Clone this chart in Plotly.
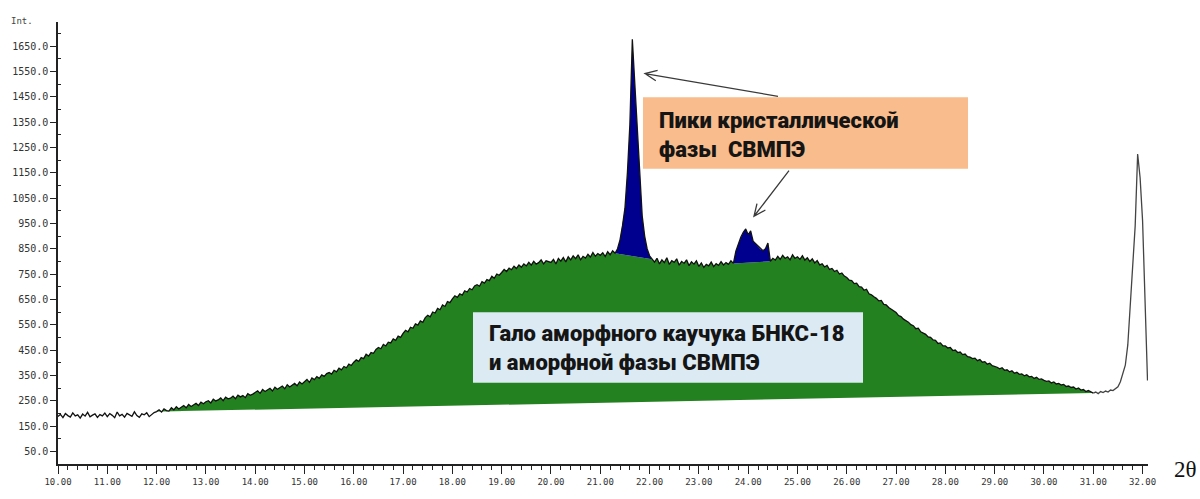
import math
import numpy as np
import plotly.graph_objects as go

# ---------------- data ----------------
theta_start = 10.0
theta_step = 0.05

i10 = [188, 196, 183, 199, 191, 185, 202, 190, 194, 181, 197, 189, 204, 186, 193, 198, 184, 195, 190, 201]
i11 = [187, 199, 192, 183, 205, 190, 196, 185, 200, 193, 188, 206, 191, 184, 198, 194, 202, 187, 196, 203]
i12 = [207, 214, 205, 218, 211, 209, 222, 214, 226, 217, 224, 231, 222, 235, 227, 233, 240, 231, 244, 238]
i13 = [246, 250, 241, 256, 249, 253, 261, 250, 264, 257, 260, 268, 258, 272, 265, 270, 262, 278, 271, 276]
i14 = [282, 289, 279, 294, 286, 292, 299, 288, 303, 295, 300, 308, 297, 313, 304, 311, 318, 309, 324, 316]
i15 = [326, 334, 322, 340, 333, 345, 338, 352, 346, 357, 361, 355, 370, 364, 378, 372, 385, 380, 394, 389]
i16 = [402, 411, 405, 420, 416, 433, 426, 440, 437, 452, 460, 455, 472, 466, 481, 478, 494, 488, 505, 500]
i17 = [516, 528, 522, 540, 536, 553, 548, 565, 559, 578, 587, 581, 600, 596, 614, 609, 628, 622, 641, 637]
i18 = [652, 664, 658, 672, 667, 684, 679, 693, 688, 703, 708, 702, 720, 714, 728, 724, 741, 733, 750, 745]
i19 = [756, 768, 760, 773, 767, 781, 772, 786, 777, 790, 782, 796, 785, 800, 789, 795, 806, 790, 802, 798]
i20 = [796, 808, 790, 812, 801, 815, 798, 818, 806, 822, 811, 826, 806, 820, 813, 828, 817, 835, 820, 831]
i21 = [824, 834, 819, 838, 826, 842, 832, 850, 885, 940, 1010, 1150, 1340, 1677, 1500, 1330, 1120, 980, 900, 850]
i22 = [822, 808, 797, 812, 790, 806, 795, 814, 788, 803, 796, 810, 785, 800, 792, 806, 783, 798, 789, 802]
i23 = [780, 794, 776, 788, 782, 797, 779, 791, 784, 799, 786, 795, 788, 802, 792, 840, 870, 895, 915, 928]
i24 = [905, 920, 880, 870, 858, 848, 842, 850, 872, 800, 812, 805, 820, 808, 824, 812, 818, 806, 826, 812]
i25 = [818, 808, 822, 805, 814, 800, 810, 794, 803, 786, 790, 778, 784, 768, 772, 760, 765, 750, 754, 742]
i26 = [736, 726, 724, 712, 714, 700, 698, 686, 690, 672, 668, 660, 654, 644, 646, 630, 628, 618, 612, 604]
i27 = [598, 586, 582, 572, 566, 560, 550, 546, 534, 536, 522, 518, 512, 502, 500, 490, 488, 476, 478, 466]
i28 = [466, 458, 460, 448, 450, 440, 442, 432, 434, 424, 422, 416, 418, 408, 412, 402, 404, 394, 398, 388]
i29 = [386, 382, 376, 380, 370, 372, 364, 368, 358, 362, 354, 356, 348, 352, 344, 346, 338, 342, 334, 336]
i30 = [330, 326, 328, 320, 324, 316, 318, 312, 314, 306, 308, 302, 304, 296, 300, 292, 294, 286, 290, 284]
i31 = [280, 284, 278, 286, 282, 288, 284, 292, 290, 298, 305, 325, 358, 390, 470, 620, 780, 940, 1224, 1130]
i32 = [960, 640, 330]

halo_range = (12.00, 31.00)        # amorphous halo (green)
peak1_range = (21.30, 22.05)       # crystalline peak 1 (blue)
peak2_range = (23.70, 24.45)       # crystalline peak 2 (blue)

x_ticks = list(range(10, 33))
x_ticktext = [f"{v:.2f}" for v in x_ticks]
y_ticks = [50, 150, 250, 350, 450, 550, 650, 750, 850, 950, 1050, 1150, 1250, 1350, 1450, 1550, 1650]
y_ticktext = [f"{v:.1f}" for v in y_ticks]

label_crystal = "Пики кристаллической<br>фазы  СВМПЭ"
label_halo = "Гало аморфного каучука БНКС-18<br>и аморфной фазы СВМПЭ"

# ---------------- build ----------------
intensity = np.array(i10 + i11 + i12 + i13 + i14 + i15 + i16 + i17 + i18 + i19 + i20 +
                     i21 + i22 + i23 + i24 + i25 + i26 + i27 + i28 + i29 + i30 + i31 + i32, dtype=float)
theta = np.round(theta_start + theta_step * np.arange(len(intensity)), 2)
eps = 1e-6


def inside(lo, hi, strict=False):
    if strict:
        return (theta > lo + eps) & (theta < hi - eps)
    return (theta >= lo - eps) & (theta <= hi + eps)


green_mask = inside(*halo_range) & ~inside(*peak1_range, strict=True) & ~inside(*peak2_range, strict=True)
p1_mask = inside(*peak1_range)
p2_mask = inside(*peak2_range)
main_mask = theta <= halo_range[1] + eps
tail_mask = theta >= halo_range[1] - eps

GREEN = "#23821f"
BLUE = "#00008f"

fig = go.Figure()
fig.add_trace(go.Scatter(x=theta[green_mask], y=intensity[green_mask], fill="toself",
                         fillcolor=GREEN, line=dict(width=0), mode="lines", hoverinfo="skip"))
fig.add_trace(go.Scatter(x=theta[p1_mask], y=intensity[p1_mask], fill="toself",
                         fillcolor=BLUE, line=dict(width=0), mode="lines", hoverinfo="skip"))
fig.add_trace(go.Scatter(x=theta[p2_mask], y=intensity[p2_mask], fill="toself",
                         fillcolor=BLUE, line=dict(width=0), mode="lines", hoverinfo="skip"))
fig.add_trace(go.Scatter(x=theta[main_mask], y=intensity[main_mask], mode="lines",
                         line=dict(color="#111111", width=1.3)))
fig.add_trace(go.Scatter(x=theta[tail_mask], y=intensity[tail_mask], mode="lines",
                         line=dict(color="#444444", width=1.3)))

# pixel -> paper helpers (plot area: x 58..1148, y 22..468)
L, R, T, B = 58, 52, 22, 31
W, H = 1200, 499
PW, PH = W - L - R, H - T - B


def px(x):
    return (x - L) / PW


def py(y):
    return (H - B - y) / PH


shapes = []
# annotation boxes
shapes.append(dict(type="rect", xref="paper", yref="paper", x0=px(643), x1=px(968), y0=py(170), y1=py(98),
                   fillcolor="#f9bc8c", line=dict(width=0), layer="above"))
shapes.append(dict(type="rect", xref="paper", yref="paper", x0=px(473), x1=px(863), y0=py(386), y1=py(315),
                   fillcolor="#dceaf4", line=dict(width=0), layer="above"))


def arrow(tail, head, wing=13, ang=24):
    dx, dy = tail[0] - head[0], tail[1] - head[1]
    n = math.hypot(dx, dy)
    ux, uy = dx / n, dy / n
    pts = []
    for s in (1, -1):
        a = math.radians(ang * s)
        wx = ux * math.cos(a) - uy * math.sin(a)
        wy = ux * math.sin(a) + uy * math.cos(a)
        pts.append((head[0] + wing * wx, head[1] + wing * wy))
    path = (f"M {px(tail[0])},{py(tail[1])} L {px(head[0])},{py(head[1])} "
            f"M {px(pts[0][0])},{py(pts[0][1])} L {px(head[0])},{py(head[1])} "
            f"L {px(pts[1][0])},{py(pts[1][1])}")
    return dict(type="path", xref="paper", yref="paper", path=path,
                line=dict(color="#3a3a3a", width=1.3), layer="above")


shapes.append(arrow((778, 97), (645, 74)))
shapes.append(arrow((789, 172), (754, 218)))

annotations = [
    dict(xref="paper", yref="paper", x=px(657), y=py(136.5), xanchor="left", yanchor="middle",
         text=label_crystal, showarrow=False, align="left",
         font=dict(family="Roboto", size=22, color="#151515", weight=900)),
    dict(xref="paper", yref="paper", x=px(487), y=py(351), xanchor="left", yanchor="middle",
         text=label_halo, showarrow=False, align="left",
         font=dict(family="Roboto", size=22, color="#151515", weight=900)),
    dict(xref="paper", yref="paper", x=px(1185), y=py(474), xanchor="center", yanchor="middle",
         text="2θ", showarrow=False,
         font=dict(family="Liberation Serif", size=23, color="#111111")),
    dict(xref="paper", yref="paper", x=px(22), y=py(21), xanchor="center", yanchor="middle",
         text="Int.", showarrow=False,
         font=dict(family="DejaVu Sans Mono", size=9, color="#444444")),
]

tickfont = dict(family="DejaVu Sans Mono", size=9, color="#333333")

fig.update_layout(
    width=W, height=H,
    margin=dict(l=L, r=R, t=T, b=B),
    plot_bgcolor="white", paper_bgcolor="white",
    showlegend=False,
    shapes=shapes,
    annotations=annotations,
    xaxis=dict(range=[10, 32.11], showgrid=False, zeroline=False,
               showline=True, linecolor="#222222", linewidth=1.5,
               ticks="outside", ticklen=8, tickcolor="#222222", tickwidth=1,
               tickvals=x_ticks, ticktext=x_ticktext, tickfont=tickfont,
               minor=dict(tick0=10, dtick=0.2, ticks="outside", ticklen=4, tickcolor="#222222")),
    yaxis=dict(range=[0, 1745], showgrid=False, zeroline=False,
               showline=True, linecolor="#222222", linewidth=1.5,
               ticks="outside", ticklen=6, tickcolor="#222222",
               tickvals=y_ticks, ticktext=y_ticktext,
               tickfont=dict(family="DejaVu Sans Mono", size=10, color="#333333"),
               minor=dict(tick0=0, dtick=100, ticks="inside", ticklen=3, tickcolor="#222222")),
)

fig.write_html("out.html", config={"displayModeBar": False},
               post_script="document.body.style.margin='0';document.body.style.overflow='hidden';")
